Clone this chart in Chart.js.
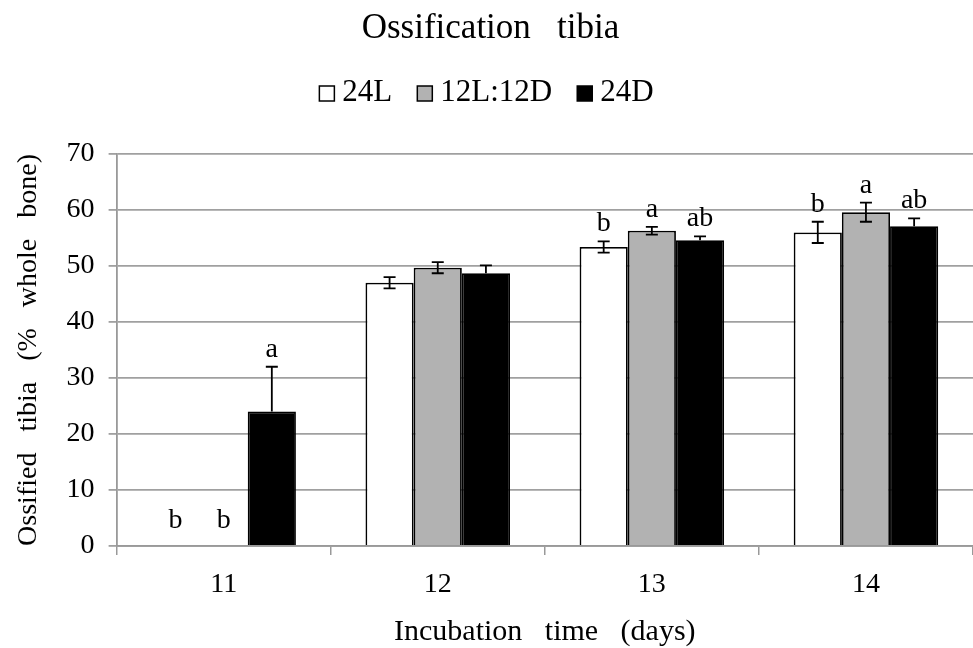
<!DOCTYPE html>
<html>
<head>
<meta charset="utf-8">
<script src="https://cdn.jsdelivr.net/npm/chart.js@4.4.1/dist/chart.umd.min.js"></script>
<style>
    html, body { margin: 0; padding: 0; background: #fff; }
    #wrap { width: 973px; height: 648px; }
</style>
</head>
<body>
<div id="wrap"><canvas id="chart"></canvas></div>
<script>
// Data
const days = ['11', '12', '13', '14'];
const seriesNames = ['24L', '12L:12D', '24D'];
const light24 = [0, 47.0, 53.4, 56.0];
const lightDark = [0, 49.7, 56.3, 59.6];
const dark24 = [24.0, 48.7, 54.6, 57.1];
const light24Err = [0, 1.0, 1.0, 1.9];
const lightDarkErr = [0, 1.0, 0.7, 1.7];
const dark24Err = [8.0, 1.4, 0.7, 1.4];
const light24Letters = ['b', '', 'b', 'b'];
const lightDarkLetters = ['b', '', 'a', 'a'];
const dark24Letters = ['a', '', 'ab', 'ab'];

const serif = "'Liberation Serif', 'Times New Roman', serif";

// error bars + significance letters
const annotatePlugin = {
    id: 'annotate',
    afterDatasetsDraw(chart) {
        const ctx = chart.ctx;
        const y = chart.scales.y;
        chart.data.datasets.forEach((ds, i) => {
            const meta = chart.getDatasetMeta(i);
            meta.data.forEach((bar, j) => {
                const val = ds.data[j];
                const err = ds.errors[j];
                const x = bar.x;
                ctx.save();
                ctx.strokeStyle = '#000';
                ctx.lineWidth = 1.8;
                let topY = y.getPixelForValue(val);
                if (err > 0) {
                    const hi = y.getPixelForValue(val + err);
                    const lo = y.getPixelForValue(val - err);
                    // lower half hidden inside the black bars
                    const hideLow = ds.backgroundColor === '#000000';
                    ctx.beginPath();
                    ctx.moveTo(x, hi); ctx.lineTo(x, hideLow ? topY : lo);
                    ctx.moveTo(x - 6, hi); ctx.lineTo(x + 6, hi);
                    if (!hideLow) { ctx.moveTo(x - 6, lo); ctx.lineTo(x + 6, lo); }
                    ctx.stroke();
                    topY = hi;
                }
                const letter = ds.letters[j];
                if (letter) {
                    ctx.fillStyle = '#000';
                    ctx.font = '28px ' + serif;
                    ctx.textAlign = 'center';
                    ctx.textBaseline = 'alphabetic';
                    const ty = val === 0 ? y.getPixelForValue(0) - 18 : topY - 10;
                    ctx.fillText(letter, x, ty);
                }
                ctx.restore();
            });
        });
    }
};

// legend with small boxes close to the text
const legendPlugin = {
    id: 'smallLegend',
    afterDraw(chart) {
        const ctx = chart.ctx;
        const box = 15, gap = 8, itemGap = 25, baseline = 101;
        ctx.save();
        ctx.font = '31px ' + serif;
        const items = chart.data.datasets.map(ds => ({ text: ds.label, fill: ds.backgroundColor, w: ctx.measureText(ds.label).width }));
        const total = items.reduce((s, it) => s + box + gap + it.w, 0) + itemGap * (items.length - 1);
        let x = chart.width / 2 - total / 2;
        items.forEach(it => {
            ctx.fillStyle = it.fill;
            ctx.fillRect(x, baseline - box, box, box);
            ctx.strokeStyle = '#000';
            ctx.lineWidth = 1.5;
            ctx.strokeRect(x, baseline - box, box, box);
            ctx.fillStyle = '#000';
            ctx.textBaseline = 'alphabetic';
            ctx.textAlign = 'left';
            ctx.fillText(it.text, x + box + gap, baseline);
            x += box + gap + it.w + itemGap;
        });
        ctx.restore();
    }
};

new Chart(document.getElementById('chart'), {
    type: 'bar',
    data: {
        labels: days,
        datasets: [
            { label: seriesNames[0], data: light24, errors: light24Err, letters: light24Letters,
              backgroundColor: '#ffffff', borderColor: '#000', borderWidth: 1.8 },
            { label: seriesNames[1], data: lightDark, errors: lightDarkErr, letters: lightDarkLetters,
              backgroundColor: '#b2b2b2', borderColor: '#000', borderWidth: 1.8 },
            { label: seriesNames[2], data: dark24, errors: dark24Err, letters: dark24Letters,
              backgroundColor: '#000000', borderColor: '#000', borderWidth: 1.8 }
        ]
    },
    options: {
        responsive: true,
        maintainAspectRatio: false,
        animation: false,
        categoryPercentage: 0.675,
        barPercentage: 1.0,
        layout: { padding: { left: 8, right: 0, top: 0, bottom: 0 } },
        plugins: {
            title: {
                display: true,
                text: 'Ossification   tibia',
                color: '#000',
                font: { family: serif, size: 35, weight: 'normal' },
                padding: { top: 8, bottom: 104 }
            },
            legend: { display: false },
            tooltip: { enabled: false }
        },
        scales: {
            x: {
                grid: { display: true, drawOnChartArea: false, drawTicks: true, tickLength: 9, color: '#999', lineWidth: 1.5, offset: true },
                border: { color: '#999', width: 1.8 },
                ticks: { color: '#000', font: { family: serif, size: 28 }, padding: 13 },
                title: { display: true, text: 'Incubation   time   (days)', color: '#000',
                         font: { family: serif, size: 30, lineHeight: 1.05 }, padding: { top: 2, bottom: 0 } }
            },
            y: {
                min: 0, max: 70,
                ticks: { stepSize: 10, color: '#000', font: { family: serif, size: 28 }, padding: 14 },
                grid: { color: '#a0a0a0', lineWidth: 1.8, tickLength: 8 },
                border: { color: '#999', width: 1.8 },
                title: { display: true, text: 'Ossified   tibia   (%   whole   bone)', color: '#000',
                         font: { family: serif, size: 28 }, padding: { top: 4, bottom: 7 } }
            }
        }
    },
    plugins: [annotatePlugin, legendPlugin]
});
</script>
</body>
</html>
